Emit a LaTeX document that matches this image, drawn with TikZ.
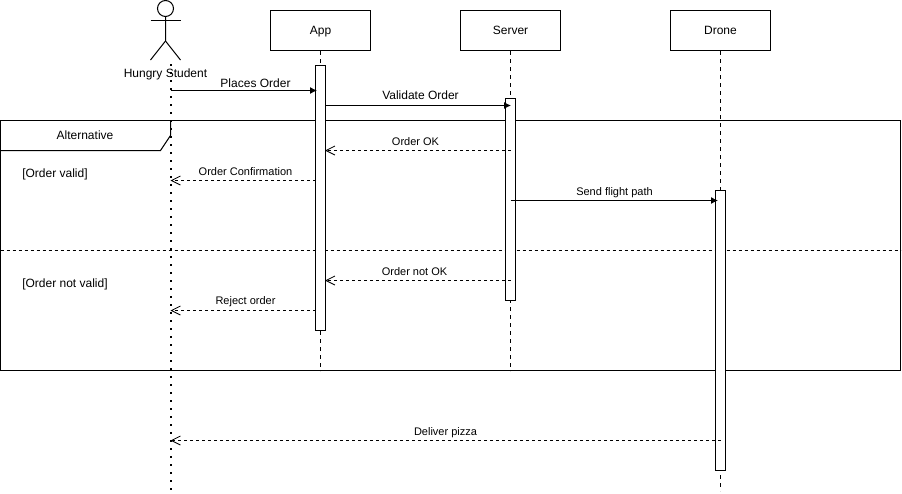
\documentclass[tikz,border=0pt]{standalone}
\usepackage{fontspec}
\setmainfont{Liberation Sans}
\usetikzlibrary{arrows.meta}
\tikzset{
  every node/.style={font=\fontsize{12}{14}\selectfont},
  smalltext/.style={font=\fontsize{11}{13}\selectfont,inner sep=0pt},
  headbox/.style={draw,minimum width=100pt,minimum height=40pt,inner sep=0pt,text height=8.6pt,text depth=1.6pt},
  barbox/.style={draw,fill=white,minimum width=10pt,anchor=north,inner sep=0pt},
  lifeline/.style={dashed,dash pattern=on 4pt off 4pt},
  callmsg/.style={-{Latex[length=7pt,width=7pt]}},
  replymsg/.style={dashed,dash pattern=on 3pt off 3pt,-{Straight Barb[length=9pt,width=9pt,line width=.8pt]}}
}
\begin{document}
\begin{tikzpicture}[x=1pt,y=-1pt,line width=1pt]
  \useasboundingbox (0,0) rectangle (902,493);

  % frame
  \draw (0.5,120.5) rectangle (900.5,370.5);
  \draw (170.5,120.5) -- (170.5,135.5) -- (160.5,150.5) -- (0.5,150.5);
  \draw [dashed,dash pattern=on 3pt off 3pt] (0.5,250.5) -- (900.5,250.5);
  \node at (85,135.5) (altlabel) {Alternative};
  \node at (55,174.5) (validlabel) {[Order valid]};
  \node at (65,284.5) (invalidlabel) {[Order not valid]};

  % actor
  \draw (165.5,8.5) circle (8);
  \draw (165.5,16.5) -- (165.5,41) -- (150.5,60);
  \draw (165.5,41) -- (180.5,60);
  \draw (150.5,20.5) -- (180.5,20.5);
  \coordinate (studentTop) at (170.5,64);
  \coordinate (studentEnd) at (170.5,491);
  \draw [line width=2pt,dash pattern=on 2pt off 6pt] (studentTop) -- (studentEnd);
  \node at (165.5,74) (student) {Hungry Student};

  % heads and lifelines
  \node [headbox] at (320.5,30.5) (app) {App};
  \node [headbox] at (510.5,30.5) (server) {Server};
  \node [headbox] at (720.5,30.5) (drone) {Drone};
  \coordinate (appEnd) at (320.5,371);
  \coordinate (serverEnd) at (510.5,371);
  \coordinate (droneEnd) at (720.5,491);
  \draw [lifeline] (app) -- (appEnd);
  \draw [lifeline] (server) -- (serverEnd);
  \draw [lifeline] (drone) -- (droneEnd);

  % activation bars
  \node [barbox,minimum height=265pt] at (320.5,65) (appBar) {};
  \node [barbox,minimum height=202pt] at (510.5,98) (serverBar) {};
  \node [barbox,minimum height=280pt] at (720.5,190) (droneBar) {};

  % message ends
  \coordinate (s1) at (170.5,90.5);
  \coordinate (a1) at (317,90.5);
  \coordinate (a2) at (325.5,105.5);
  \coordinate (v2) at (511,105.5);
  \coordinate (v3) at (510.5,150.5);
  \coordinate (a3) at (325,150.5);
  \coordinate (a4) at (315.5,180.5);
  \coordinate (s4) at (170.5,180.5);
  \coordinate (v5) at (510.5,200.5);
  \coordinate (d5) at (718,200.5);
  \coordinate (v6) at (510.5,280.5);
  \coordinate (a6) at (325,280.5);
  \coordinate (a7) at (315.5,310.5);
  \coordinate (s7) at (170.5,310.5);
  \coordinate (d8) at (720.5,440.5);
  \coordinate (s8) at (170.5,440.5);

  \draw [callmsg] (s1) -- (a1);
  \draw [callmsg] (a2) -- (v2);
  \draw [replymsg] (v3) -- (a3);
  \draw [replymsg] (a4) -- (s4);
  \draw [callmsg] (v5) -- (d5);
  \draw [replymsg] (v6) -- (a6);
  \draw [replymsg] (a7) -- (s7);
  \draw [replymsg] (d8) -- (s8);

  \node at (255.5,83) (placeslabel) {Places Order};
  \node at (420.5,95.5) (validatelabel) {Validate Order};
  \node [smalltext] at (415.5,142) (oklabel) {Order OK};
  \node [smalltext] at (245.5,172) (confirmlabel) {Order Confirmation};
  \node [smalltext] at (614.5,192.5) (flightlabel) {Send flight path};
  \node [smalltext] at (414.5,272) (notoklabel) {Order not OK};
  \node [smalltext] at (245.5,302) (rejectlabel) {Reject order};
  \node [smalltext] at (445.5,432.5) (deliverlabel) {Deliver pizza};

\end{tikzpicture}
\end{document}
